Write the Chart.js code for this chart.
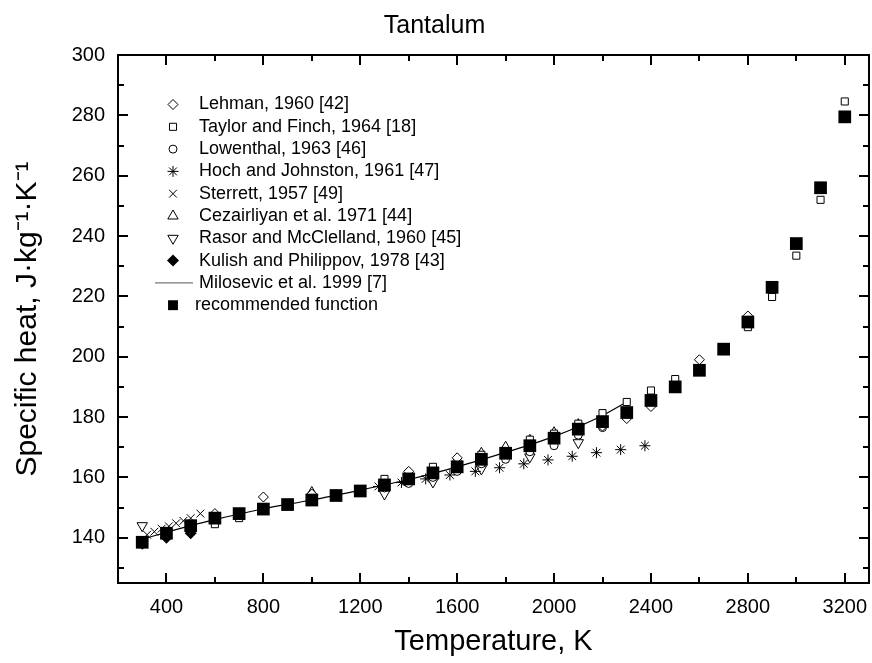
<!DOCTYPE html>
<html>
<head>
<meta charset="utf-8">
<script src="https://cdn.jsdelivr.net/npm/chart.js@4.4.1/dist/chart.umd.min.js"></script>
<style>
  html, body { margin: 0; padding: 0; background: #fff; }
</style>
</head>
<body>
<canvas id="cpChart" width="872" height="663"></canvas>
<script>
// tick values
const xTicks = [400, 800, 1200, 1600, 2000, 2400, 2800, 3200];
const xMinorTicks = [600, 1000, 1400, 1800, 2200, 2600, 3000];
const yTicks = [140, 160, 180, 200, 220, 240, 260, 280, 300];
const yMinorTicks = [130, 150, 170, 190, 210, 230, 250, 270, 290];

// recommended function (filled squares)
const recT = [300, 400, 500, 600, 700, 800, 900, 1000, 1100, 1200, 1300, 1400, 1500, 1600, 1700,
              1800, 1900, 2000, 2100, 2200, 2300, 2400, 2500, 2600, 2700, 2800, 2900, 3000, 3100, 3200];
const recCp = [138.5, 141.5, 144, 146.5, 148, 149.5, 151, 152.5, 154, 155.5, 157.5, 159.5, 161.5, 163.5, 166,
               168, 170.5, 173, 176, 178.5, 181.5, 185.5, 190, 195.5, 202.5, 211.5, 223, 237.5, 256, 279.5];

// Milosevic et al. 1999 (line)
const milT = [300, 400, 500, 600, 800, 1000, 1200, 1400, 1600, 1800, 1900, 2000, 2100, 2200, 2300];
const milCp = [139.5, 141.8, 144, 146, 149.6, 152.5, 155.8, 159.3, 163.5, 168.3, 170.8, 173.6, 176.8, 180.5, 185];

// Lehman 1960
const lehT = [600, 800, 1000, 1400, 1600, 2200, 2300, 2400, 2600, 2800];
const lehCp = [148, 153.5, 154.5, 162, 166.5, 177, 179.5, 183.5, 199, 213.5];

// Taylor and Finch 1964
const tayT = [600, 700, 1300, 1500, 1700, 1900, 2000, 2100, 2200, 2300, 2400, 2500, 2800, 2900, 3000, 3100, 3200];
const tayCp = [144.5, 146.5, 159.5, 163.5, 167.5, 172.5, 174.5, 177.8, 181.3, 185, 188.8, 192.6, 209.8, 219.8, 233.5, 252, 284.6];

// Lowenthal 1963
const lowT = [1300, 1400, 1500, 1600, 1700, 1800, 1900, 2000, 2100, 2200];
const lowCp = [156.5, 158, 160, 162, 164.5, 166, 168.5, 170.5, 174, 176.5];

// Hoch and Johnston 1961
const hocT = [1275, 1370, 1470, 1570, 1675, 1775, 1875, 1975, 2075, 2175, 2275, 2375];
const hocCp = [157, 158.3, 159.5, 160.8, 162, 163.2, 164.5, 165.8, 167, 168.2, 169.2, 170.5];

// Sterrett 1957
const stT = [320, 350, 380, 410, 440, 470, 500, 540];
const stCp = [141, 142, 143, 143.8, 144.8, 145.6, 146.5, 148];

// Cezairliyan et al. 1971
const cezT = [1000, 1600, 1700, 1800, 1900, 2000, 2100];
const cezCp = [155, 166, 168, 170, 172.3, 174.8, 177.5];

// Rasor and McClelland 1960
const rasT = [300, 1300, 1500, 1700, 1900, 2100];
const rasCp = [144, 154.5, 158.5, 162.8, 166.8, 171.5];

// Kulish and Philippov 1978
const kulT = [300, 400, 500];
const kulCp = [138, 140, 141.5];

const FONT = '"Liberation Sans", Arial, Helvetica, sans-serif';

function pts(xs, ys) {
    return xs.map((x, i) => ({ x: x, y: ys[i] }));
}

function openSet(label, xs, ys, style, radius, rotation) {
    return {
        label: label,
        data: pts(xs, ys),
        pointStyle: style,
        pointRadius: radius,
        pointRotation: rotation || 0,
        pointBorderWidth: 1,
        pointBorderColor: '#000',
        pointBackgroundColor: '#fff',
        showLine: false
    };
}

const datasets = [
    openSet('Lehman, 1960 [42]', lehT, lehCp, 'rectRot', 5),
    openSet('Taylor and Finch, 1964 [18]', tayT, tayCp, 'rect', 5),
    openSet('Lowenthal, 1963 [46]', lowT, lowCp, 'circle', 4),
    openSet('Hoch and Johnston, 1961 [47]', hocT, hocCp, 'star', 5.5),
    openSet('Sterrett, 1957 [49]', stT, stCp, 'crossRot', 5.5),
    openSet('Cezairliyan et al. 1971 [44]', cezT, cezCp, 'triangle', 6),
    openSet('Rasor and McClelland, 1960 [45]', rasT, rasCp, 'triangle', 6, 180),
    {
        label: 'Kulish and Philippov, 1978 [43]',
        data: pts(kulT, kulCp),
        pointStyle: 'rectRot',
        pointRadius: 6,
        pointBorderWidth: 0,
        pointBackgroundColor: '#000',
        showLine: false
    },
    {
        label: 'Milosevic et al. 1999 [7]',
        data: pts(milT, milCp),
        showLine: true,
        borderColor: '#000',
        borderWidth: 1.2,
        pointRadius: 0,
        tension: 0.3
    },
    {
        label: 'recommended function',
        data: pts(recT, recCp),
        pointStyle: 'rect',
        pointRadius: 9,
        pointBorderWidth: 0,
        pointBackgroundColor: '#000',
        showLine: false,
        order: -1
    }
];

// frame with inward ticks on all four sides
const framePlugin = {
    id: 'frame',
    afterDatasetsDraw(chart) {
        const ctx = chart.ctx;
        const a = chart.chartArea;
        const xs = chart.scales.x, ys = chart.scales.y;
        ctx.save();
        ctx.strokeStyle = '#000';
        ctx.lineWidth = 2;
        ctx.strokeRect(a.left, a.top, a.right - a.left, a.bottom - a.top);
        ctx.beginPath();
        const xt = (vals, len) => vals.forEach(v => {
            const px = Math.round(xs.getPixelForValue(v));
            ctx.moveTo(px, a.bottom); ctx.lineTo(px, a.bottom - len);
            ctx.moveTo(px, a.top); ctx.lineTo(px, a.top + len);
        });
        const yt = (vals, len) => vals.forEach(v => {
            const py = Math.round(ys.getPixelForValue(v));
            ctx.moveTo(a.left, py); ctx.lineTo(a.left + len, py);
            ctx.moveTo(a.right, py); ctx.lineTo(a.right - len, py);
        });
        xt(xTicks, 10); xt(xMinorTicks, 6);
        yt(yTicks, 10); yt(yMinorTicks, 6);
        ctx.stroke();
        ctx.restore();
    }
};

// legend drawn inside the plot
const legendPlugin = {
    id: 'innerLegend',
    afterDraw(chart) {
        const ctx = chart.ctx;
        const symX = 173, textX = 199, top = 104.5, step = 22.3;
        ctx.save();
        ctx.font = '18px ' + FONT;
        ctx.textBaseline = 'middle';
        ctx.fillStyle = '#000';
        chart.data.datasets.forEach((ds, i) => {
            const y = top + i * step;
            ctx.strokeStyle = '#000';
            if (ds.showLine) {
                ctx.lineWidth = 1;
                ctx.strokeStyle = '#555';
                ctx.beginPath();
                ctx.moveTo(155, y); ctx.lineTo(193, y);
                ctx.stroke();
            } else {
                ctx.lineWidth = ds.pointBorderWidth;
                ctx.fillStyle = ds.pointBackgroundColor;
                const r = ds.pointStyle === 'rect' && ds.pointRadius > 6 ? 7 : ds.pointRadius;
                Chart.helpers.drawPoint(ctx, {
                    pointStyle: ds.pointStyle,
                    radius: r,
                    rotation: ds.pointRotation || 0,
                    borderWidth: ds.pointBorderWidth
                }, symX, y);
            }
            ctx.fillStyle = '#000';
            ctx.fillText(ds.label, ds.order === -1 ? 195 : textX, y);
        });
        ctx.restore();
    }
};

const ctx = document.getElementById('cpChart').getContext('2d');
const cpChart = new Chart(ctx, {
    type: 'scatter',
    data: { datasets: datasets },
    options: {
        responsive: false,
        animation: false,
        layout: {
            autoPadding: false,
            padding: { top: 0, right: 3, bottom: 0, left: 0 }
        },
        plugins: {
            legend: { display: false },
            tooltip: { enabled: false },
            title: {
                display: true,
                text: 'Tantalum',
                color: '#000',
                font: { family: FONT, size: 25, weight: 'normal' },
                padding: { top: 11, bottom: 14 }
            }
        },
        scales: {
            x: {
                type: 'linear',
                min: 200,
                max: 3300,
                afterBuildTicks: scale => { scale.ticks = xTicks.map(v => ({ value: v })); },
                afterFit: scale => {
                    // the labels fit inside the plot width, so no side padding is needed
                    scale.height = 80;
                    scale.paddingLeft = 0;
                    scale.paddingRight = 0;
                },
                grid: { display: false, drawTicks: false },
                border: { display: false },
                ticks: {
                    color: '#000',
                    padding: 12,
                    font: { family: FONT, size: 20 },
                    callback: v => String(v)
                },
                title: {
                    display: true,
                    text: 'Temperature, K',
                    color: '#000',
                    font: { family: FONT, size: 29 },
                    padding: { top: 0, bottom: 4 }
                }
            },
            y: {
                type: 'linear',
                min: 125,
                max: 300,
                afterBuildTicks: scale => { scale.ticks = yTicks.map(v => ({ value: v })); },
                afterFit: scale => { scale.width = 118; },
                grid: { display: false, drawTicks: false },
                border: { display: false },
                ticks: {
                    color: '#000',
                    padding: 13,
                    font: { family: FONT, size: 20 },
                    callback: v => String(v)
                },
                title: {
                    display: true,
                    text: 'Specific heat, J\u00B7kg\u207B\u00B9\u00B7K\u207B\u00B9',
                    color: '#000',
                    font: { family: FONT, size: 30 },
                    padding: { top: 10, bottom: 0 }
                }
            }
        }
    },
    plugins: [framePlugin, legendPlugin]
});
</script>
</body>
</html>
